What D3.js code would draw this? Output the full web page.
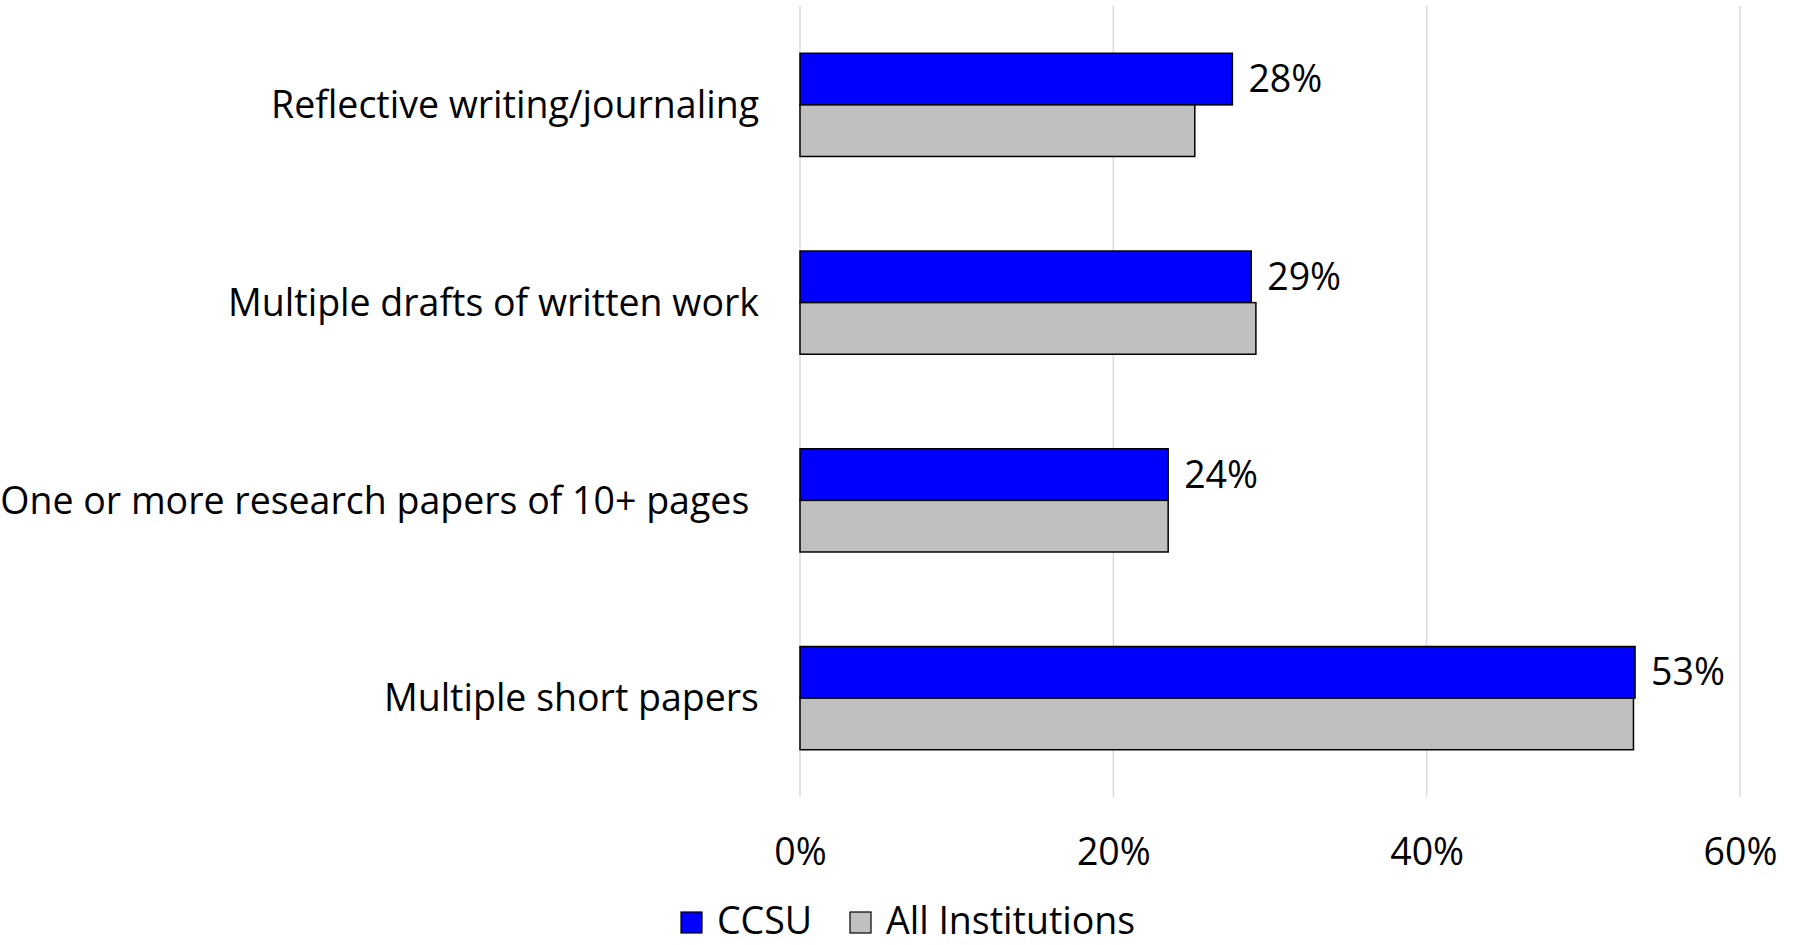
<!DOCTYPE html>
<html>
<head>
<meta charset="utf-8">
<script src="https://cdn.jsdelivr.net/npm/d3@7"></script>
<style>
  html, body { margin: 0; padding: 0; background: #fff; }
  svg { display: block; }
  text { font-family: "Open Sans", "Noto Sans", sans-serif; fill: #000; }
</style>
</head>
<body>
<svg id="chart" width="1797" height="945"></svg>
<script>
// ---- data ----
const categories = [
  "Reflective writing/journaling",
  "Multiple drafts of written work",
  "One or more research papers of 10+ pages ",
  "Multiple short papers"
];
const seriesNames = ["CCSU", "All Institutions"];
const ccsuValues = [27.6, 28.8, 23.5, 53.3];
const allInstValues = [25.2, 29.1, 23.5, 53.2];
const xTicks = [0, 20, 40, 60];
const seriesColors = ["#0000ff", "#c0c0c0"];

// ---- layout ----
const svg = d3.select("#chart");
const fontSize = 37.5;
const plot = { left: 800, right: 1740, top: 6, bottom: 797 };

const x = d3.scaleLinear().domain([0, 60]).range([plot.left, plot.right]);
const y0 = d3.scaleBand().domain(categories).range([plot.top, plot.bottom])
  .paddingInner(0.478).paddingOuter(0.239);
const y1 = d3.scaleBand().domain(seriesNames).range([0, y0.bandwidth()]);
const color = d3.scaleOrdinal().domain(seriesNames).range(seriesColors);

const rows = categories.map((c, i) => ({
  cat: c,
  vals: [
    { s: seriesNames[0], v: ccsuValues[i] },
    { s: seriesNames[1], v: allInstValues[i] }
  ]
}));

// gridlines
svg.append("g").selectAll("line").data(xTicks).join("line")
  .attr("x1", d => x(d)).attr("x2", d => x(d))
  .attr("y1", plot.top).attr("y2", plot.bottom)
  .attr("stroke", "#d9d9d9").attr("stroke-width", 1.4);

// bars
const groups = svg.append("g").selectAll("g").data(rows).join("g")
  .attr("transform", d => `translate(0,${y0(d.cat)})`);
groups.selectAll("rect").data(d => d.vals).join("rect")
  .attr("x", x(0))
  .attr("y", d => y1(d.s))
  .attr("width", d => x(d.v) - x(0))
  .attr("height", y1.bandwidth())
  .attr("fill", d => color(d.s))
  .attr("stroke", "#000").attr("stroke-width", 1.5);

// data labels (CCSU only)
groups.append("text")
  .attr("x", d => x(d.vals[0].v) + 16)
  .attr("y", y1(seriesNames[0]) + y1.bandwidth() / 2)
  .attr("dy", "0.35em")
  .style("font-size", fontSize + "px")
  .text(d => Math.round(d.vals[0].v) + "%");

// category labels
svg.append("g").selectAll("text").data(categories).join("text")
  .attr("x", 759)
  .attr("y", d => y0(d) + y0.bandwidth() / 2)
  .attr("dy", "0.35em")
  .attr("text-anchor", "end")
  .style("white-space", "pre")
  .style("font-size", fontSize + "px")
  .text(d => d);

// x axis
const xAxis = d3.axisBottom(x).tickValues(xTicks).tickSize(0).tickPadding(0)
  .tickFormat(d => d + "%");
const ax = svg.append("g").attr("transform", `translate(0,${865})`).call(xAxis);
ax.select(".domain").remove();
ax.selectAll("text").attr("dy", 0).attr("y", 0)
  .style("font-size", fontSize + "px").style("font-family", null);

// legend
const legendItems = [
  { name: seriesNames[0], sx: 681, tx: 717 },
  { name: seriesNames[1], sx: 850, tx: 886 }
];
const lg = svg.append("g").selectAll("g").data(legendItems).join("g");
lg.append("rect")
  .attr("x", d => d.sx).attr("y", 912).attr("width", 21).attr("height", 21)
  .attr("fill", d => color(d.name)).attr("stroke", "#000").attr("stroke-width", 1.2);
lg.append("text")
  .attr("x", d => d.tx).attr("y", 934)
  .style("font-size", fontSize + "px")
  .text(d => d.name);
</script>
</body>
</html>
